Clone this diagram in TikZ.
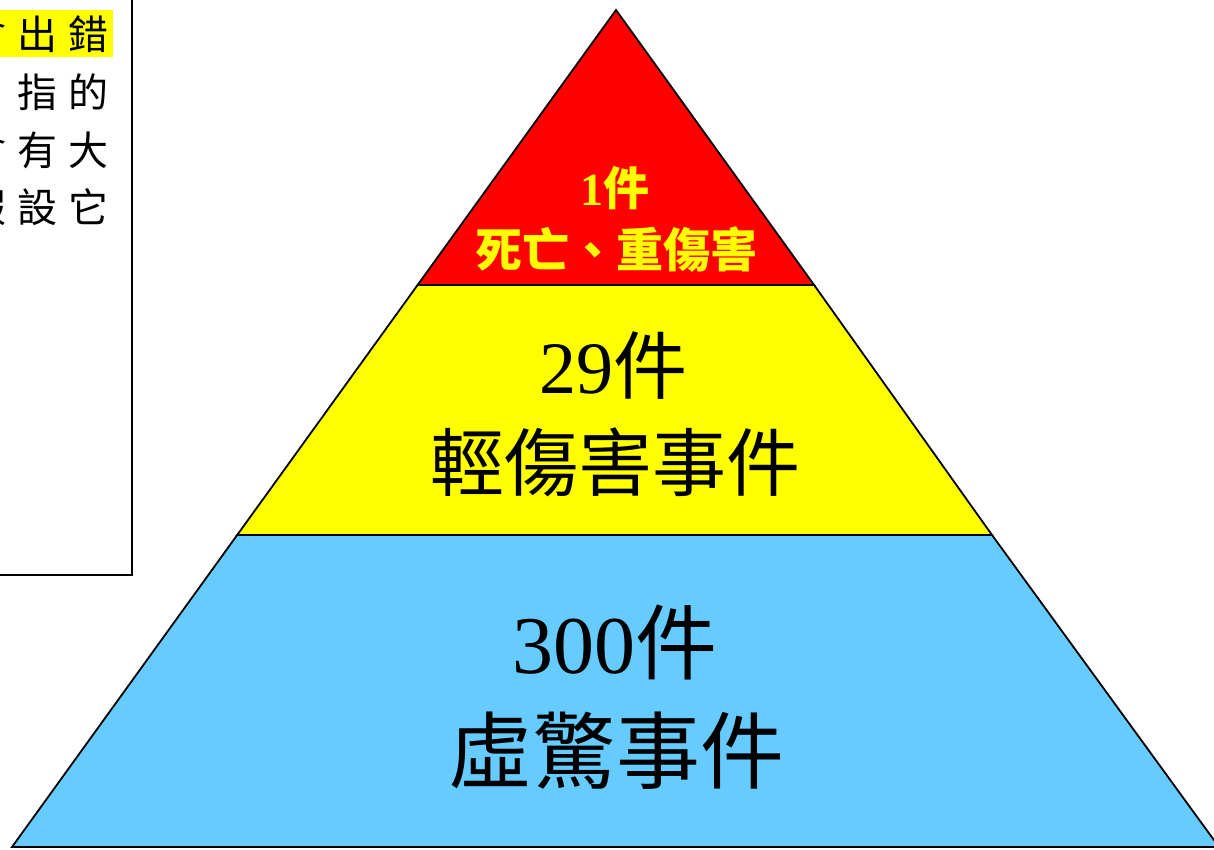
\documentclass[tikz,border=0pt]{standalone}
\usepackage{fontspec}
\setmainfont{Liberation Serif}
\newfontfamily\cjk{Noto Sans CJK TC}
\definecolor{topred}{HTML}{FF0000}
\definecolor{midyel}{HTML}{FFFF00}
\definecolor{lowblue}{HTML}{66CCFF}
\newcommand\cbx[1]{\makebox[51pt]{#1}}
\tikzset{
  layer/.style={draw=black, line width=1.8pt, line join=miter},
  lbl/.style={inner sep=0pt, anchor=base},
  notebox/.style={draw=black, line width=1.6pt},
  noterow/.style={inner sep=0pt, anchor=base east, font=\cjk\fontsize{40}{40}\selectfont}
}
\begin{document}
\begin{tikzpicture}[x=1pt,y=-1pt]
\useasboundingbox (0,0) rectangle (1214,849);
\clip (0,0) rectangle (1214,849);
% pyramid corners
\coordinate (apex) at (616,10);
\coordinate (l1) at (417.6,285);
\coordinate (r1) at (814.1,285);
\coordinate (l2) at (237.2,535);
\coordinate (r2) at (992.0,535);
\coordinate (bl) at (12,847);
\coordinate (br) at (1219,847);
% layers
\draw[layer, fill=lowblue] (l2) -- (r2) -- (br) -- (bl) -- cycle;
\draw[layer, fill=midyel] (l1) -- (r1) -- (r2) -- (l2) -- cycle;
\draw[layer, fill=topred] (apex) -- (r1) -- (l1) -- cycle;
% labels
\node[lbl, text=midyel, font=\bfseries\fontsize{46}{46}\selectfont] (t1) at (615,205) {1{\cjk\bfseries 件}};
\node[lbl, text=midyel, font=\cjk\bfseries\fontsize{47}{47}\selectfont] (t2) at (616,267) {死亡、重傷害};
\node[lbl, font=\fontsize{74}{74}\selectfont] (m1) at (613,393) {29{\cjk 件}};
\node[lbl, font=\cjk\fontsize{74}{74}\selectfont] (m2) at (615,490) {輕傷害事件};
\node[lbl, font=\fontsize{82}{82}\selectfont] (b1) at (615,673) {300{\cjk 件}};
\node[lbl, font=\cjk\fontsize{84}{84}\selectfont] (b2) at (616,782) {虛驚事件};
% note box (cut off at left and top)
\draw[notebox] (-20,-20) rectangle (132,575);
\fill[midyel] (0,10) rectangle (113,57);
\node[noterow] (n1) at (114.5,49) {\cbx{會}\cbx{出}\cbx{錯}};
\node[noterow] (n2) at (114.5,107) {\cbx{}\cbx{指}\cbx{的}};
\node[noterow] (n3) at (114.5,165) {\cbx{會}\cbx{有}\cbx{大}};
\node[noterow] (n4) at (114.5,222) {\cbx{假}\cbx{設}\cbx{它}};
\end{tikzpicture}
\end{document}
